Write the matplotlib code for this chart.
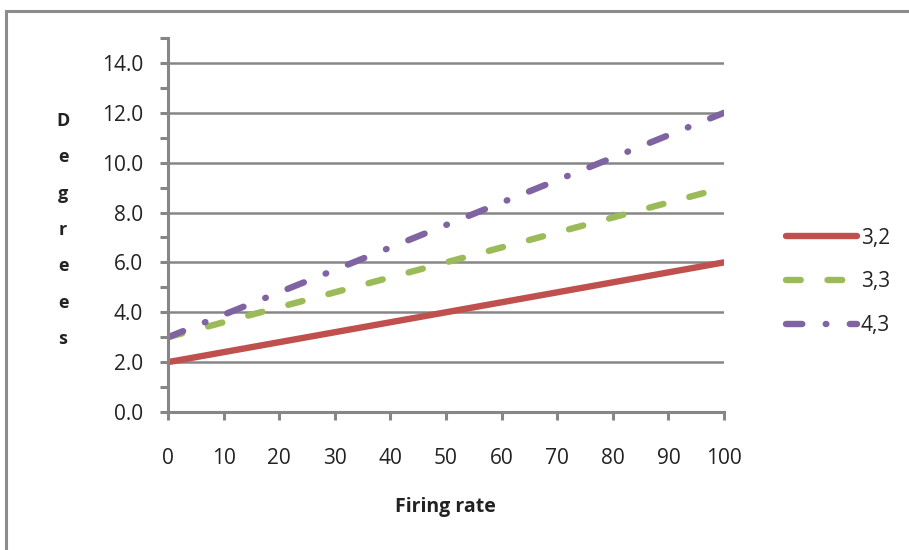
import matplotlib.pyplot as plt
from matplotlib.patches import Rectangle
from matplotlib.ticker import MultipleLocator

# data
rate = [0, 10, 20, 30, 40, 50, 60, 70, 80, 90, 100]
s32 = [2.0, 2.4, 2.8, 3.2, 3.6, 4.0, 4.4, 4.8, 5.2, 5.6, 6.0]
s33 = [3.0, 3.6, 4.2, 4.8, 5.4, 6.0, 6.6, 7.2, 7.8, 8.4, 9.0]
s43 = [3.0, 3.9, 4.8, 5.7, 6.6, 7.5, 8.4, 9.3, 10.2, 11.1, 12.0]
names = ['3,2', '3,3', '4,3']
colors = ['#C0504D', '#9BBB59', '#8064A2']

plt.rcParams['font.family'] = ['Open Sans', 'DejaVu Sans']
gray = '#868686'
txt = '#222222'

fig = plt.figure(figsize=(9.09, 5.5), dpi=100)
# outer chart frame (cut off on right and bottom)
fig.patches.append(Rectangle((6/909, -0.1), 1.1, 1 - 11/550 + 0.1,
                             transform=fig.transFigure, fill=False,
                             edgecolor='#8c8c8c', linewidth=2.2))

ax = fig.add_axes([168/909, 1 - 412/550, (724 - 168)/909, (412 - 38)/550])

lw = 4.6
ax.plot(rate, s32, color=colors[0], lw=lw, solid_capstyle='round', label=names[0])
ax.plot(rate, s33, color=colors[1], lw=lw, linestyle=(0, (2.3, 4.2)),
        dash_capstyle='round', label=names[1])
ax.plot(rate, s43, color=colors[2], lw=lw,
        linestyle=(0.2, (2.75, 3.67, 0.1, 3.67)),
        dash_capstyle='round', label=names[2])

ax.set_xlim(0, 100)
ax.set_ylim(0, 15)
ax.set_xticks(rate)
ax.set_yticks([0, 2, 4, 6, 8, 10, 12, 14])
ax.yaxis.set_minor_locator(MultipleLocator(1))
ax.set_yticklabels(['%.1f' % v for v in ax.get_yticks()])
ax.grid(axis='y', which='major', color=gray, lw=1.8, zorder=0)
ax.set_axisbelow(True)

for s in ['top', 'right']:
    ax.spines[s].set_visible(False)
for s in ['left', 'bottom']:
    ax.spines[s].set_color(gray)
    ax.spines[s].set_linewidth(2.2)

ax.tick_params(axis='both', which='both', color=gray, width=2.2, length=6,
               labelsize=15, labelcolor=txt)
ax.tick_params(axis='x', pad=20)
ax.tick_params(axis='y', pad=12)
ax.tick_params(axis='y', which='minor', length=6)

fig.text(445/909, 1 - 507/550, 'Firing rate', ha='center', va='center',
         fontsize=14, fontweight='bold', color=txt)
fig.text(63/909, 1 - 230/550, 'D\ne\ng\nr\ne\ne\ns', ha='center', va='center',
         fontsize=13, fontweight='bold', color=txt, linespacing=2.31)

leg = fig.legend(loc='center left', bbox_to_anchor=(767/909, 1 - 282/550),
                 frameon=False, fontsize=15, handlelength=3.4,
                 handletextpad=0.2, labelspacing=1.1)
for t in leg.get_texts():
    t.set_color(txt)

fig.savefig('out.png', dpi=100)
